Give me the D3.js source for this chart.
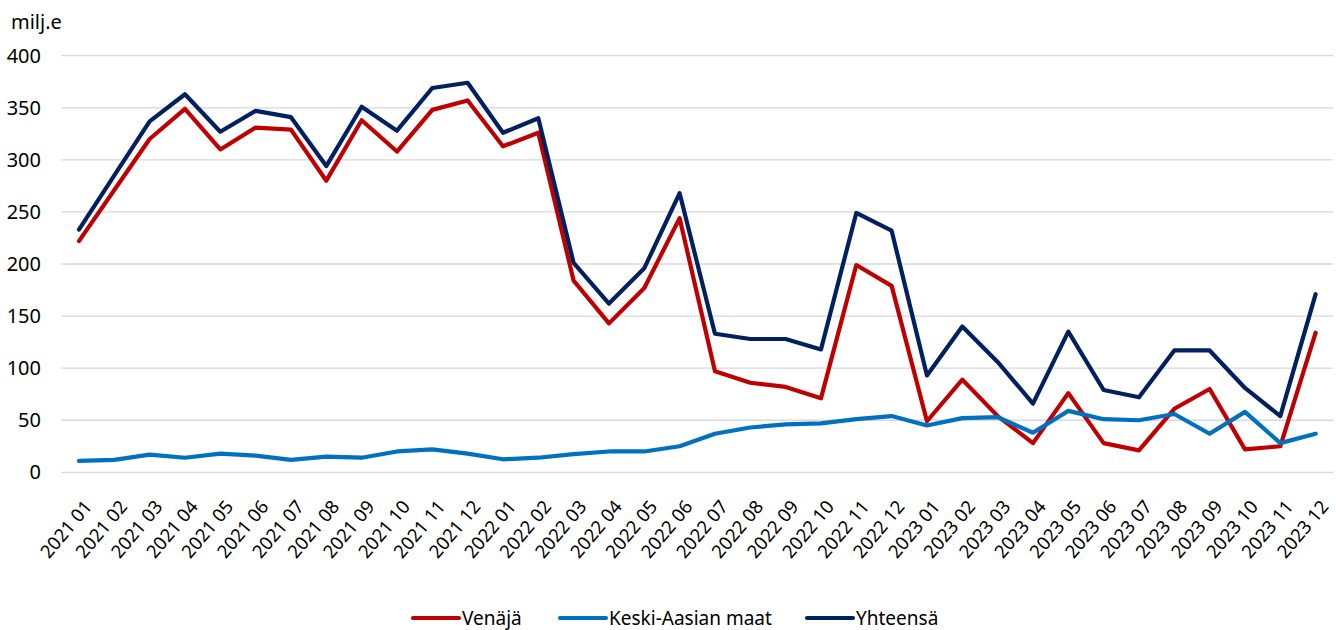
<!DOCTYPE html>
<html>
<head>
<meta charset="utf-8">
<script src="https://d3js.org/d3.v7.min.js"></script>
<style>
  body { margin: 0; background: #fff; }
  text { font-family: "Noto Sans", "Open Sans", sans-serif; fill: #000; }
</style>
</head>
<body>
<div id="my_dataviz"></div>
<script>

// data (milj. e)
var months = ["2021 01","2021 02","2021 03","2021 04","2021 05","2021 06","2021 07","2021 08","2021 09","2021 10","2021 11","2021 12",
              "2022 01","2022 02","2022 03","2022 04","2022 05","2022 06","2022 07","2022 08","2022 09","2022 10","2022 11","2022 12",
              "2023 01","2023 02","2023 03","2023 04","2023 05","2023 06","2023 07","2023 08","2023 09","2023 10","2023 11","2023 12"];
var venaja = [222, 271, 320, 349, 310, 331, 329, 280, 338, 308, 348, 357,
              313, 326, 184, 143, 177, 244, 97, 86, 82, 71, 199, 179,
              49, 89, 54, 28, 76, 28, 21, 61, 80, 22, 25, 134];
var keskiAasia = [11, 12, 17, 14, 18, 16, 12, 15, 14, 20, 22, 18,
                  12.5, 14, 17.5, 20, 20, 25, 37, 43, 46, 47, 51, 54,
                  45, 52, 53, 38, 59, 51, 50, 56, 37, 58, 28, 37];
var yhteensa = [233, 285, 337, 363, 327, 347, 341, 294, 351, 328, 369, 374,
                326, 340, 201, 162, 196, 268, 133, 128, 128, 118, 249, 232,
                93, 140, 106, 66, 135, 79, 72, 117, 117, 81, 54, 171];
var yTicks = [0, 50, 100, 150, 200, 250, 300, 350, 400];
var seriesNames = ["Venäjä", "Keski-Aasian maat", "Yhteensä"];
var colors = ["#C00000", "#0070C0", "#002060"];

var width = 1336, height = 630;

var svg = d3.select("#my_dataviz")
  .append("svg")
    .attr("width", width)
    .attr("height", height);

// scales
var x = d3.scalePoint()
  .domain(months)
  .range([61.3, 1333.3])
  .padding(0.5);

var y = d3.scaleLinear()
  .domain([0, 400])
  .range([472.3, 55.7]);

// gridlines
svg.append("g")
  .selectAll("line")
  .data(yTicks)
  .enter()
  .append("line")
    .attr("x1", 61.3)
    .attr("x2", 1333.3)
    .attr("y1", function(d) { return y(d); })
    .attr("y2", function(d) { return y(d); })
    .style("stroke", "#D9D9D9")
    .style("stroke-width", 1.3);

// y axis labels
var yAxis = svg.append("g")
  .attr("transform", "translate(41,0)")
  .call(d3.axisLeft(y).tickValues(yTicks).tickSize(0).tickPadding(0));
yAxis.select(".domain").remove();
yAxis.selectAll("text")
  .style("font-size", "20px")
  .style("font-family", "'Noto Sans', sans-serif")
  .attr("fill", "#000");

svg.append("text")
  .attr("x", 11)
  .attr("y", 29)
  .style("font-size", "20px")
  .text("milj.e");

// x axis labels
svg.append("g")
  .selectAll("text")
  .data(months)
  .enter()
  .append("text")
    .attr("transform", function(d) { return "translate(" + (x(d) + 9) + ",503) rotate(-50)"; })
    .attr("text-anchor", "end")
    .attr("dy", "0.35em")
    .style("font-size", "18.5px")
    .text(function(d) { return d; });

// lines
var series = [venaja, keskiAasia, yhteensa];
var line = d3.line()
  .x(function(d, i) { return x(months[i]); })
  .y(function(d) { return y(d); });

svg.append("g")
  .selectAll("path")
  .data(series)
  .enter()
  .append("path")
    .attr("d", line)
    .style("fill", "none")
    .style("stroke", function(d, i) { return colors[i]; })
    .style("stroke-width", 4.2)
    .style("stroke-linejoin", "round")
    .style("stroke-linecap", "round");

// legend
var legendX = [413, 560, 807];
var legend = svg.append("g")
  .selectAll("g")
  .data(seriesNames)
  .enter()
  .append("g")
    .attr("transform", function(d, i) { return "translate(" + legendX[i] + ",618)"; });

legend.append("line")
  .attr("x1", 0)
  .attr("x2", 46)
  .style("stroke", function(d, i) { return colors[i]; })
  .style("stroke-width", 4.2)
  .style("stroke-linecap", "round");

legend.append("text")
  .attr("x", 49)
  .attr("y", 7)
  .style("font-size", "19px")
  .text(function(d) { return d; });

</script>
</body>
</html>
